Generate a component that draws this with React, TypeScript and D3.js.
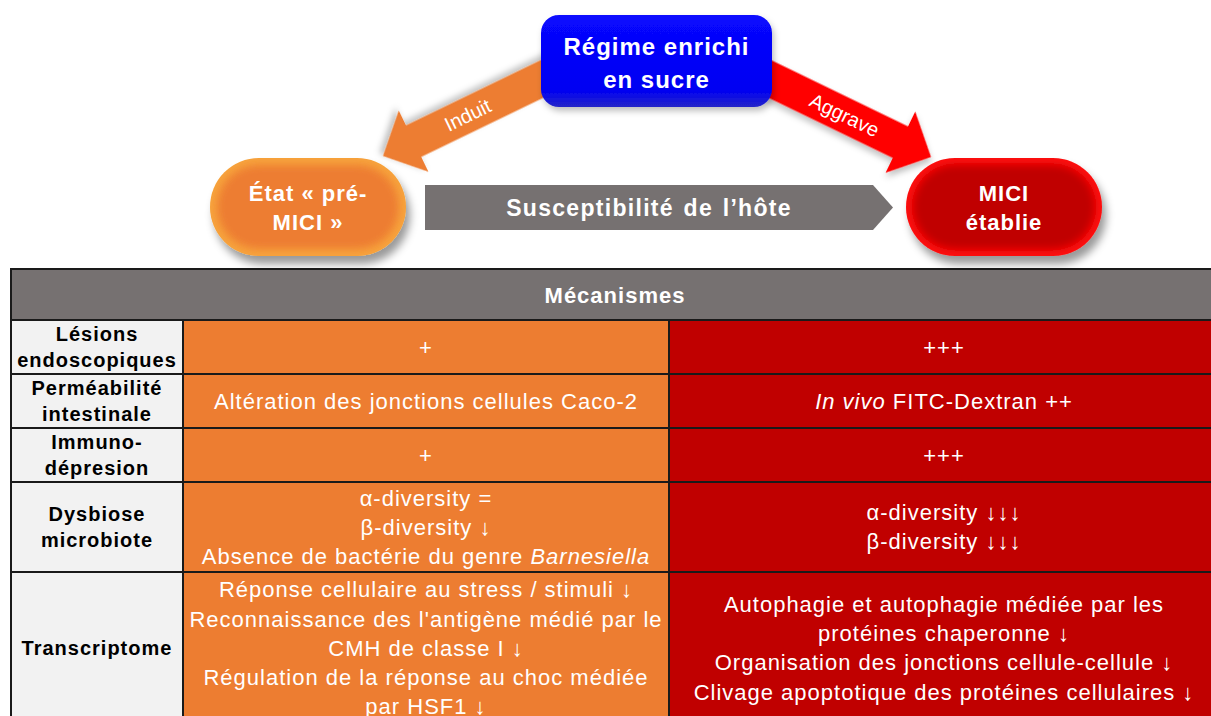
import React from "react";
import * as d3 from "d3";

/* ---- data ---- */
const DIET = ["Régime enrichi", "en sucre"];
const PRE_STATE = ["État « pré-", "MICI »"];
const EST_STATE = ["MICI", "établie"];
const SUSCEPT = "Susceptibilité  de l’hôte";
const ARROW_LABELS = ["Induit", "Aggrave"];
const HEADER = "Mécanismes";

const MECHANISMS: string[][] = [
  ["Lésions", "endoscopiques"],
  ["Perméabilité", "intestinale"],
  ["Immuno-", "dépresion"],
  ["Dysbiose", "microbiote"],
  ["Transcriptome"],
];
// _..._ marks italic parts
const PRE_MICI: string[][] = [
  ["+"],
  ["Altération des jonctions cellules Caco-2"],
  ["+"],
  ["α-diversity =", "β-diversity ↓", "Absence de bactérie du genre _Barnesiella_"],
  [
    "Réponse cellulaire au stress / stimuli ↓",
    "Reconnaissance des l'antigène médié par le",
    "CMH de classe I ↓",
    "Régulation de la réponse au choc médiée",
    "par HSF1 ↓",
  ],
];
const MICI: string[][] = [
  ["+++"],
  ["_In vivo_ FITC-Dextran ++"],
  ["+++"],
  ["α-diversity ↓↓↓", "β-diversity ↓↓↓"],
  [
    "Autophagie et autophagie médiée par les",
    "protéines chaperonne ↓",
    "Organisation des jonctions cellule-cellule ↓",
    "Clivage apoptotique des protéines cellulaires ↓",
  ],
];

/* ---- layout ---- */
const W = 1211;
const H = 716;
const FONT = "'Liberation Sans', Arial, sans-serif";
const COLS = [11, 183, 669, 1219];
const TABLE_TOP = 269;
const HEADER_H = 51;
const ROW_H = [54, 54, 54, 90, 152];

const ORANGE = "#ED7D31";
const RED = "#C00000";
const GREY = "#767171";

type LinesProps = {
  lines: string[];
  cx: number;
  cy: number;
  size: number;
  gap: number;
  weight?: string | number;
  fill?: string;
};

function Lines({ lines, cx, cy, size, gap, weight = "normal", fill = "#fff" }: LinesProps) {
  const y0 = cy + size * 0.35 - ((lines.length - 1) / 2) * gap;
  return (
    <g>
      {lines.map((ln, i) => (
        <text
          key={i}
          x={cx}
          y={y0 + i * gap}
          textAnchor="middle"
          fill={fill}
          fontSize={size}
          fontWeight={weight}
          style={{ letterSpacing: "1px" }}
        >
          {ln.split("_").map((seg, j) => (
            <tspan key={j} fontStyle={j % 2 ? "italic" : "normal"}>
              {seg}
            </tspan>
          ))}
        </text>
      ))}
    </g>
  );
}

/* arrow pointing +x, tip at origin */
function arrowPath(L: number, sw: number, hw: number, hl: number) {
  const pts: [number, number][] = [
    [-L, -sw / 2],
    [-hl, -sw / 2],
    [-hl, -hw / 2],
    [0, 0],
    [-hl, hw / 2],
    [-hl, sw / 2],
    [-L, sw / 2],
  ];
  return d3.line()(pts) + "Z";
}

function Pill({ x, y, w, h, edge, core, id }: { x: number; y: number; w: number; h: number; edge: string; core: string; id: string }) {
  return (
    <g filter="url(#shadow)">
      <clipPath id={id}>
        <rect x={x} y={y} width={w} height={h} rx={h / 2} />
      </clipPath>
      <rect x={x} y={y} width={w} height={h} rx={h / 2} fill={edge} />
      <g clipPath={`url(#${id})`}>
        <rect x={x + 7} y={y + 7} width={w - 14} height={h - 14} rx={(h - 14) / 2} fill={core} filter="url(#soft)" />
      </g>
    </g>
  );
}

export default function App() {
  const ang = (Math.atan2(0.436, 0.9) * 180) / Math.PI;
  const arrow = arrowPath(195, 35, 68, 34);
  const ux = Math.cos((ang * Math.PI) / 180);
  const uy = Math.sin((ang * Math.PI) / 180);

  const leftTip: [number, number] = [383, 156];
  const rightTip: [number, number] = [931, 157];
  const leftLabel = [leftTip[0] + 94 * ux, leftTip[1] - 94 * uy];
  const rightLabel = [rightTip[0] - 96 * ux, rightTip[1] - 96 * uy];

  const ys = [TABLE_TOP + HEADER_H, ...Array.from(d3.cumsum(ROW_H), (v) => TABLE_TOP + HEADER_H + v)];
  const y = d3.scaleOrdinal<number, number>().domain(d3.range(ys.length)).range(ys);

  return (
    <svg
      width={W}
      height={H}
      viewBox={`0 0 ${W} ${H}`}
      style={{ position: "absolute", left: 0, top: 0, background: "#fff", fontFamily: FONT }}
    >
      <defs>
        <filter id="shadow" x="-20%" y="-20%" width="150%" height="160%">
          <feDropShadow dx="4" dy="8" stdDeviation="4.5" floodColor="#000" floodOpacity="0.4" />
        </filter>
        <filter id="lightShadow" x="-20%" y="-20%" width="150%" height="160%">
          <feDropShadow dx="2" dy="4" stdDeviation="3" floodColor="#000" floodOpacity="0.25" />
        </filter>
        <filter id="soft" x="-20%" y="-30%" width="140%" height="160%">
          <feGaussianBlur stdDeviation="4" />
        </filter>
        <linearGradient id="blueGrad" x1="0" y1="0" x2="0" y2="1">
          <stop offset="0%" stopColor="#0808FF" />
          <stop offset="82%" stopColor="#0000F2" />
          <stop offset="100%" stopColor="#2525C8" />
        </linearGradient>
      </defs>

      {/* ---- arrows ---- */}
      <path d={arrow} fill={ORANGE} filter="url(#lightShadow)" transform={`translate(${leftTip[0]},${leftTip[1]}) rotate(${180 - ang})`} />
      <path d={arrow} fill="#FF0000" filter="url(#lightShadow)" transform={`translate(${rightTip[0]},${rightTip[1]}) rotate(${ang})`} />
      <text
        transform={`translate(${leftLabel[0]},${leftLabel[1]}) rotate(${-ang})`}
        y={7}
        textAnchor="middle"
        fill="#fff"
        fontSize={20}
      >
        {ARROW_LABELS[0]}
      </text>
      <text
        transform={`translate(${rightLabel[0]},${rightLabel[1]}) rotate(${ang})`}
        y={7}
        textAnchor="middle"
        fill="#fff"
        fontSize={20}
      >
        {ARROW_LABELS[1]}
      </text>

      {/* ---- diet box ---- */}
      <rect x={541} y={15} width={231} height={92} rx={18} fill="url(#blueGrad)" filter="url(#lightShadow)" />
      <Lines lines={DIET} cx={656.5} cy={63} size={24} gap={33} weight="bold" />

      {/* ---- grey susceptibility arrow ---- */}
      <path d={d3.line()([[425, 185], [873, 185], [893, 207.5], [873, 230], [425, 230]]) + "Z"} fill={GREY} />
      <text x={649} y={216} textAnchor="middle" fill="#fff" fontSize={23} fontWeight="bold" style={{ letterSpacing: "1.3px", wordSpacing: "2px" }}>
        {SUSCEPT}
      </text>

      {/* ---- pills ---- */}
      <Pill x={210} y={158} w={196} h={98} edge="#F7A33C" core={ORANGE} id="pillA" />
      <Lines lines={PRE_STATE} cx={308} cy={207.5} size={22} gap={29} weight="bold" />
      <Pill x={906} y={158} w={196} h={98} edge="#FF0A0A" core={RED} id="pillB" />
      <Lines lines={EST_STATE} cx={1004} cy={207.5} size={22} gap={29} weight="bold" />

      {/* ---- table ---- */}
      <rect x={COLS[0]} y={TABLE_TOP} width={COLS[3] - COLS[0]} height={HEADER_H} fill={GREY} />
      <text
        x={(COLS[0] + COLS[3]) / 2}
        y={TABLE_TOP + HEADER_H / 2 + 8}
        textAnchor="middle"
        fill="#fff"
        fontSize={22}
        fontWeight="bold"
        style={{ letterSpacing: "1px" }}
      >
        {HEADER}
      </text>
      {MECHANISMS.map((lab, i) => {
        const y0 = y(i);
        const y1 = y(i + 1);
        const cy = (y0 + y1) / 2;
        return (
          <g key={i}>
            <rect x={COLS[0]} y={y0} width={COLS[1] - COLS[0]} height={y1 - y0} fill="#F2F2F2" />
            <rect x={COLS[1]} y={y0} width={COLS[2] - COLS[1]} height={y1 - y0} fill={ORANGE} />
            <rect x={COLS[2]} y={y0} width={COLS[3] - COLS[2]} height={y1 - y0} fill={RED} />
            <Lines lines={lab} cx={(COLS[0] + COLS[1]) / 2} cy={cy} size={20} gap={25.5} weight="bold" fill="#000" />
            <Lines lines={PRE_MICI[i]} cx={(COLS[1] + COLS[2]) / 2} cy={cy} size={22} gap={29.2} />
            <Lines lines={MICI[i]} cx={(COLS[2] + COLS[3]) / 2} cy={cy} size={22} gap={29.2} />
          </g>
        );
      })}
      {/* grid lines */}
      <g stroke="#1a1a1a" strokeWidth={2} fill="none">
        <rect x={COLS[0]} y={TABLE_TOP} width={COLS[3] - COLS[0]} height={ys[ys.length - 1] - TABLE_TOP} />
        {ys.slice(0, -1).map((v, i) => (
          <line key={i} x1={COLS[0]} x2={COLS[3]} y1={v} y2={v} />
        ))}
        {COLS.slice(1, 3).map((c, i) => (
          <line key={i} x1={c} x2={c} y1={ys[0]} y2={ys[ys.length - 1]} />
        ))}
      </g>
    </svg>
  );
}
